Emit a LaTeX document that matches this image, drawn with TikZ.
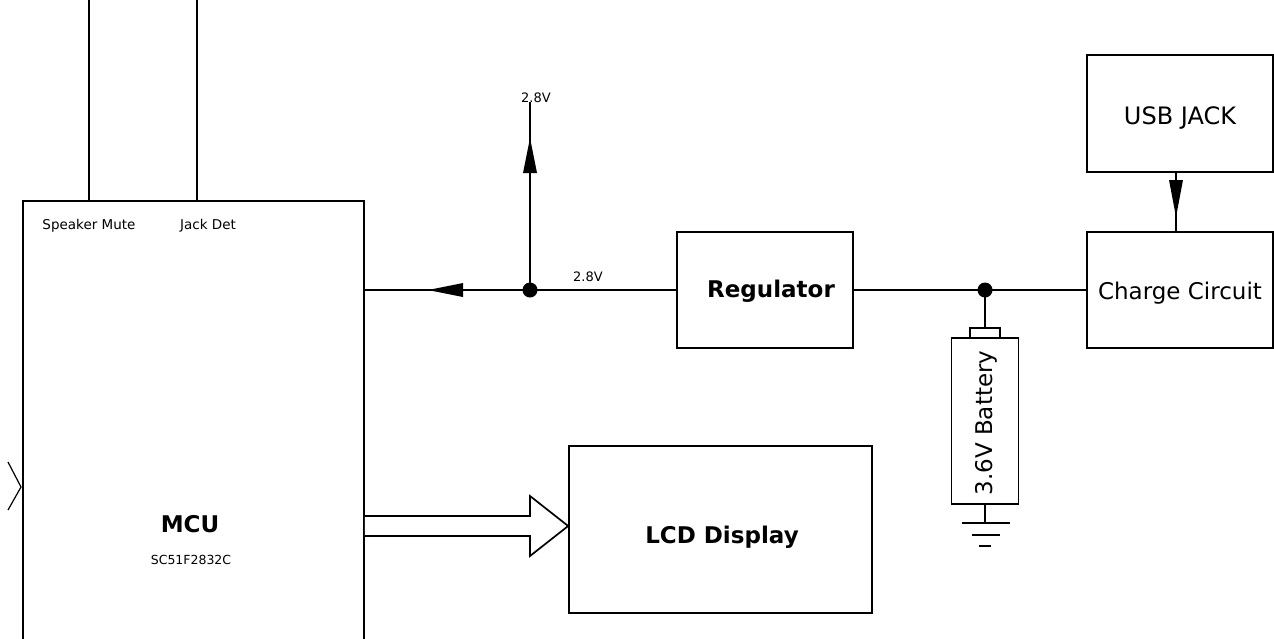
\documentclass[tikz,border=0pt]{standalone}
\usepackage{fontspec}
\setmainfont{DejaVu Sans}
\usetikzlibrary{calc}
\begin{document}
\begin{tikzpicture}[x=1pt,y=-1pt,
  wire/.style={line width=1.7pt,black},
  blockbox/.style={draw,line width=1.7pt,rectangle,inner sep=0pt,anchor=center},
  lbl/.style={inner sep=0pt,anchor=center,font=\fontsize{23}{27}\selectfont},
  blbl/.style={inner sep=0pt,anchor=center,font=\fontsize{23}{27}\selectfont\bfseries},
  small/.style={inner sep=0pt,anchor=center,font=\fontsize{13.5}{16}\selectfont},
  dot/.style={circle,fill=black,inner sep=0pt,minimum size=15pt}]
\useasboundingbox (0,0) rectangle (1274,638);
\clip (0,0) rectangle (1274,638);
% blocks
\node[blockbox,minimum width=341pt,minimum height=499pt] (mcu) at (193.5,450.5) {};
\node[blockbox,minimum width=176pt,minimum height=116pt] (reg) at (765,290) {};
\node[blockbox,minimum width=186pt,minimum height=116pt] (chg) at (1180,290) {};
\node[blockbox,minimum width=186pt,minimum height=117pt] (usb) at (1180,113.5) {};
\node[blockbox,minimum width=303pt,minimum height=167pt] (lcd) at (720.5,529.5) {};
\node[blockbox,minimum width=67pt,minimum height=166pt] (bat) at (985,421) {};
\node[blockbox,minimum width=30pt,minimum height=10pt] (cap) at (985,333) {};
% texts
\node[blbl] (tmcu) at (190,524) {MCU};
\node[small,font=\fontsize{12.5}{15}\selectfont] (tsc) at (191,560) {SC51F2832C};
\node[small] (tspk) at (89,226) {Speaker Mute};
\node[small] (tjack) at (208,226) {Jack Det};
\node[blbl] (treg) at (771,291) {Regulator};
\node[lbl] (tchg) at (1180,293) {Charge Circuit};
\node[lbl,font=\fontsize{24}{28}\selectfont] (tusb) at (1180,118) {USB JACK};
\node[blbl] (tlcd) at (722,537) {LCD Display};
\node[lbl,rotate=90] (tbat) at (986,423) {3.6V Battery};
\node[small,font=\fontsize{13}{15}\selectfont] (v1) at (536,98) {2.8V};
\node[small,font=\fontsize{13}{15}\selectfont] (v2) at (588,277) {2.8V};
% junctions
\node[dot] (j1) at (530,290) {};
\node[dot] (j2) at (985,290) {};
\coordinate (vtop) at (530,102);
\coordinate (spk) at (89,0);
\coordinate (jck) at (197,0);
% wires
\draw[wire] (spk) -- (spk |- mcu.north);
\draw[wire] (jck) -- (jck |- mcu.north);
\draw[wire] (mcu.east |- j1) -- (j1.center) -- (reg.west |- j1);
\draw[wire] (j1.center) -- (vtop);
\draw[wire] (reg.east |- j2) -- (j2.center) -- (chg.west |- j2);
\draw[wire] (j2.center) -- (cap.north);
\draw[wire] (usb.south -| 1176,0) -- (chg.north -| 1176,0);
% mid-line arrowheads
\fill (428,290) -- (463,283) -- (463,297) -- cycle;
\fill (530,138) -- (523,173) -- (537,173) -- cycle;
\fill (1176,217) -- (1169,180) -- (1183,180) -- cycle;
% ground
\coordinate (g1) at (985,523);
\draw[wire] (bat.south) -- (g1);
\draw[wire] (962,523) -- (1010,523);
\draw[wire] (972,535) -- (1000,535);
\draw[wire] (979,546) -- (991,546);
% hollow bus arrow
\draw[wire,fill=white,line join=miter] (mcu.east |- 0,516) -- (530,516) -- (530,496) -- (lcd.west |- 0,526) -- (530,556) -- (530,536) -- (mcu.east |- 0,536);
% left chevron
\draw[line width=1.2pt] (8,462) -- (21,487) -- (8,510);
\end{tikzpicture}
\end{document}
